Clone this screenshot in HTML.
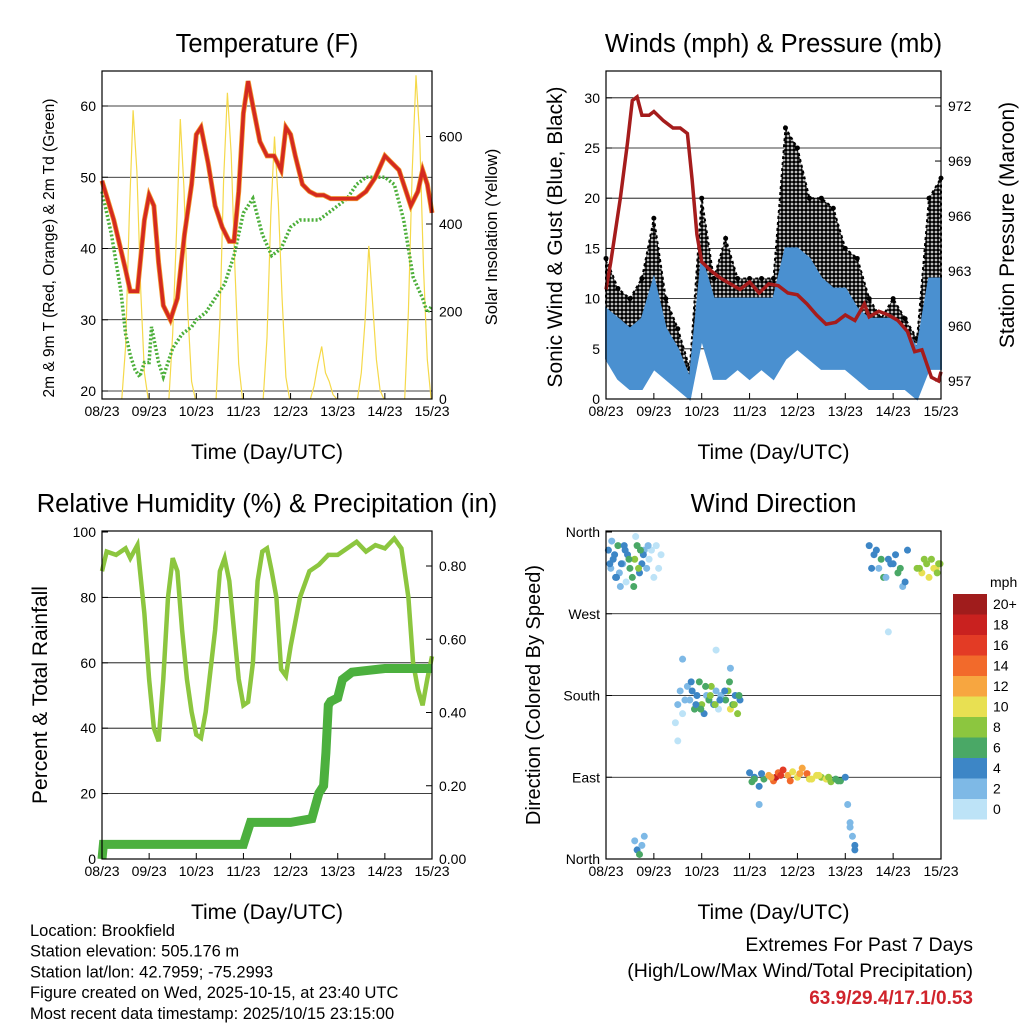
<!DOCTYPE html>
<html><head><meta charset="utf-8"><style>
body{margin:0;background:#fff;}
svg text{font-family:"Liberation Sans",Arial,sans-serif;fill:#000;}
</style></head><body>
<svg id="chart" width="1024" height="1024" viewBox="0 0 1024 1024" xmlns="http://www.w3.org/2000/svg">
<defs>
<pattern id="dots" width="4" height="4" patternUnits="userSpaceOnUse"><rect width="4" height="4" fill="#fff"/><circle cx="2" cy="2" r="1.9" fill="#000"/></pattern>
</defs>
<rect width="1024" height="1024" fill="#fff"/>
</svg>
<script>
// ---------- Data ----------
const dayLabels = ["08/23","09/23","10/23","11/23","12/23","13/23","14/23","15/23"];
const tempT = [0,0.25,0.5,0.6,0.75,0.9,1.0,1.1,1.2,1.3,1.45,1.6,1.75,1.9,2.0,2.1,2.25,2.4,2.55,2.7,2.8,2.9,3.0,3.1,3.2,3.35,3.5,3.65,3.8,3.9,4.0,4.1,4.25,4.4,4.55,4.7,4.85,5.0,5.2,5.4,5.6,5.8,6.0,6.15,6.3,6.45,6.55,6.7,6.8,6.9,7.0];
const tempV = [49.5,44,37,34,34,44,47.5,46,38,32,30,33,42,49,56,57,52,46,43,41,41,48,59,63.5,60,55,53,53,51,57,56,53,49,48,47.5,47.5,47,47,47,47,48,50,53,52,51,48,46,48,51,49,45];
const dewT = [0,0.2,0.4,0.5,0.6,0.7,0.8,0.9,1.0,1.05,1.2,1.3,1.4,1.5,1.7,1.9,2.0,2.2,2.4,2.6,2.8,3.0,3.2,3.4,3.6,3.8,4.0,4.2,4.4,4.6,4.8,5.0,5.2,5.4,5.6,5.8,6.0,6.2,6.4,6.6,6.8,6.9,7.0];
const dewV = [48,42,34,28,25,23,22,24,24,29,24,22,24,26,28,29,30,31,33,35,39,45,47,42,39,40,43,44,44,44,45,46,47,49,50,50,50,49,44,36,33,31,32];
const solarOffsets = [0.42,0.5,0.58,0.66,0.74,0.82,0.9,0.98];
const solarDay0 = [0,120,420,660,520,250,60,0];
const solarDay1 = [0,150,380,640,480,200,40,0];
const solarDay2 = [0,180,500,700,560,300,80,0];
const solarDay3 = [0,140,420,600,450,230,50,0];
const solarDay4 = [0,30,80,120,60,40,10,0];
const solarDay5 = [0,60,180,350,220,90,20,0];
const solarDay6 = [0,200,520,740,600,300,90,0];
const windT = [0,0.25,0.5,0.75,1.0,1.25,1.5,1.75,2.0,2.25,2.5,2.75,3.0,3.25,3.5,3.75,4.0,4.25,4.5,4.75,5.0,5.25,5.5,5.75,6.0,6.25,6.5,6.75,7.0];
const gustHi = [14,11,10,12,18,10,7,3,20,12,16,12,12,12,12,27,25,20,20,19,15,14,10,8,10,8,6,20,22];
const gustLo = [5,4,3,4,8,3,2,0,10,4,5,6,5,6,6,12,12,10,10,9,4,6,4,3,3,2,1,10,10];
const windHi = [9,8,7,8,12,7,5,2,14,10,10,10,10,10,10,15,15,14,12,11,11,9,8,8,8,7,5,12,12];
const windLo = [4,2,1,1,3,2,1,0,6,2,2,3,2,3,2,4,5,4,3,3,3,2,1,1,1,1,0,3,3];
const presT = [0,0.1,0.3,0.45,0.55,0.65,0.75,0.9,1.0,1.2,1.4,1.55,1.7,1.8,1.9,2.0,2.2,2.4,2.6,2.8,3.0,3.2,3.4,3.6,3.8,4.0,4.2,4.4,4.6,4.8,5.0,5.2,5.4,5.5,5.7,5.9,6.1,6.3,6.45,6.6,6.8,6.95,7.0];
const presV = [962,963.5,967,970,972.3,972.5,971.5,971.5,971.7,971.2,970.8,970.8,970.5,968,965,963.5,963,962.6,962.3,962,962.4,961.8,962.3,962.2,961.8,961.7,961.2,960.6,960.1,960.2,960.6,960.3,961.2,960.5,960.8,960.6,960.3,959.7,958.6,958.7,957.2,957,957.5];
const rhT = [0,0.1,0.3,0.5,0.6,0.75,0.9,1.0,1.1,1.2,1.3,1.4,1.5,1.6,1.7,1.8,1.9,2.0,2.1,2.2,2.4,2.5,2.6,2.7,2.8,2.9,3.0,3.1,3.2,3.3,3.4,3.5,3.6,3.7,3.8,3.9,4.0,4.2,4.4,4.6,4.8,5.0,5.2,5.4,5.6,5.8,6.0,6.2,6.35,6.5,6.6,6.7,6.8,6.9,7.0];
const rhV = [88,94,93,95,92,96,75,55,40,36,55,80,92,88,70,55,45,38,37,45,70,88,92,85,70,55,47,48,60,85,94,95,88,80,58,56,65,80,88,90,93,93,95,97,94,96,95,98,95,80,60,52,47,55,62];
const prT = [0,0.03,1.0,2.0,3.0,3.15,3.5,4.0,4.45,4.6,4.7,4.75,4.8,4.85,5.0,5.1,5.3,6.0,6.9,7.0];
const prV = [0,0.04,0.04,0.04,0.04,0.10,0.10,0.10,0.11,0.18,0.20,0.29,0.42,0.43,0.44,0.49,0.51,0.52,0.52,0.52];
const dirT = [0.05,0.1,0.15,0.2,0.25,0.3,0.35,0.4,0.45,0.5,0.55,0.6,0.65,0.7,0.75,0.8,0.85,0.9,0.95,1.0,1.05,1.1,1.15,0.6,0.65,0.7,0.75,0.8,1.45,1.5,1.6,1.7,1.75,1.8,1.85,1.9,1.95,2.0,2.05,2.1,2.15,2.2,2.25,2.3,2.35,2.4,2.5,2.55,2.6,2.65,2.7,2.75,2.8,3.0,3.05,3.1,3.2,3.3,3.4,3.5,3.55,3.6,3.7,3.8,3.9,4.0,4.1,4.2,4.3,4.4,4.5,4.6,4.7,4.8,4.9,5.0,5.05,5.1,5.15,5.2,5.5,5.6,5.7,5.8,5.9,6.0,6.1,6.2,6.3,6.5,6.6,6.7,6.8,6.9,6.95,1.5,1.6,2.3,2.6,3.2,5.9,
 0.08,0.18,0.28,0.38,0.48,0.58,0.68,0.78,0.88,0.12,0.22,0.32,0.42,0.62,0.72,1.55,1.65,1.78,1.88,1.98,2.08,2.18,2.28,2.38,2.48,2.58,2.68,2.78,3.1,3.25,3.45,3.65,3.85,4.05,4.25,4.45,4.65,4.85,5.55,5.65,5.75,5.85,5.95,6.05,6.15,6.25,6.55,6.65,6.75,6.85,6.92,6.98,5.1,5.2];
const dirV = [340,320,330,310,345,300,325,340,335,320,310,330,345,315,325,340,320,330,340,310,345,320,335,20,10,5,15,25,150,170,160,190,175,185,165,180,195,170,160,180,175,190,170,185,165,180,175,185,165,170,180,160,175,95,85,90,80,88,92,86,90,95,98,92,96,90,100,94,88,92,90,88,85,88,86,90,60,40,25,10,345,335,320,310,330,325,315,300,340,320,315,325,330,320,325,130,220,230,210,60,250,
 325,335,315,345,330,300,320,335,345,350,310,325,305,355,340,185,175,195,170,165,190,180,170,175,185,195,170,180,88,94,90,92,86,94,88,92,90,86,320,340,330,310,325,335,320,305,320,330,310,320,315,325,35,15];
const dirS = [4,3,5,4,6,2,3,4,5,6,7,8,6,5,4,3,2,1,1,1,0,1,1,3,4,7,2,3,1,2,1,3,2,5,6,4,7,8,5,3,6,9,4,2,1,3,7,9,10,6,4,8,5,5,6,4,5,7,12,15,18,14,16,12,10,11,13,14,10,11,9,10,8,6,7,4,2,3,2,4,4,5,3,6,4,5,6,3,4,8,10,9,8,10,9,1,2,1,2,3,1,
 4,5,3,4,6,7,8,5,2,3,5,4,1,1,6,2,3,4,5,6,7,8,9,5,4,7,9,6,6,5,13,17,15,12,11,10,9,7,4,5,6,3,5,4,6,5,8,9,10,11,8,9,3,4];
const cbarLabels = ["20+","18","16","14","12","10","8","6","4","2","0"];
const cbarColors = ["#a01c1c","#c9211f","#e33b25","#f26a2b","#f7a640","#e8e052","#8cc63f","#4aa866","#3d86c6","#7eb9e6","#bde3f7"];

// ---------- Helpers ----------
const svg = document.getElementById('chart');
const NS = "http://www.w3.org/2000/svg";
function add(parent, tag, name, attrs, txt){
  const el = document.createElementNS(NS, tag);
  
  
  for (const k in attrs) el.setAttribute(k, attrs[k]);
  if (txt !== undefined) el.textContent = txt;
  parent.appendChild(el);
  return el;
}
function poly(xs, ys, fx, fy){ return xs.map((x,i)=>fx(x).toFixed(1)+","+fy(ys[i]).toFixed(1)).join(" "); }

function panel(name, P, title, xlabel){
  const g = add(svg,'g',name,{});
  add(g,'text',name+'-title',{x:(P.x0+P.x1)/2,y:P.y0-19,'text-anchor':'middle','font-size':25.5},title);
  add(g,'text','x-axis-title',{x:(P.x0+P.x1)/2,y:P.y1+60,'text-anchor':'middle','font-size':21},xlabel);
  const fx = d => P.x0 + d*(P.x1-P.x0)/7;
  dayLabels.forEach((l,i)=>{
    add(g,'line','x-tick',{x1:fx(i),x2:fx(i),y1:P.y1,y2:P.y1-6,stroke:'#000'});
    add(g,'text','x-tick-label',{x:fx(i),y:P.y1+17,'text-anchor':'middle','font-size':14},l);
  });
  return {g,fx};
}
function frame(g,P){ add(g,'rect','plot-frame',{x:P.x0,y:P.y0,width:P.x1-P.x0,height:P.y1-P.y0,fill:'none',stroke:'#000','stroke-width':1.2}); }
function yTicks(g,P,vals,fy,side,fmt,grid){
  vals.forEach(v=>{
    const y=fy(v);
    if(grid && y>P.y0+2 && y<P.y1-2) add(g,'line','grid-line',{x1:P.x0,x2:P.x1,y1:y,y2:y,stroke:'#000','stroke-width':0.8});
    if(side==='l'){
      add(g,'line','y-tick',{x1:P.x0,x2:P.x0+6,y1:y,y2:y,stroke:'#000'});
      add(g,'text','y-tick-label',{x:P.x0-6,y:y+5,'text-anchor':'end','font-size':14},fmt(v));
    } else {
      add(g,'line','y2-tick',{x1:P.x1,x2:P.x1-6,y1:y,y2:y,stroke:'#000'});
      add(g,'text','y2-tick-label',{x:P.x1+7,y:y+5,'text-anchor':'start','font-size':14},fmt(v));
    }
  });
}
function vlabel(g,name,x,y,txt,size){ add(g,'text',name,{x:x,y:y,'text-anchor':'middle','font-size':size,transform:`rotate(-90 ${x} ${y})`},txt); }

// ---------- Panel 1 ----------
{
  const P={x0:102,x1:432,y0:71,y1:399};
  const {g,fx}=panel('temperature-panel',P,'Temperature (F)','Time (Day/UTC)');
  const fy=v=>391-(v-20)*7.125;
  const fs=v=>399-v*0.4375;
  yTicks(g,P,[20,30,40,50,60],fy,'l',v=>v,true);
  yTicks(g,P,[0,200,400,600],fs,'r',v=>v,false);
  const days=[solarDay0,solarDay1,solarDay2,solarDay3,solarDay4,solarDay5,solarDay6];
  days.forEach((arr,d)=>{
    add(g,'polyline','solar-line',{points:poly(solarOffsets.map(o=>d+o),arr,fx,fs),fill:'none',stroke:'#f5d94a','stroke-width':1.2});
  });
  add(g,'polyline','dewpoint-line',{points:poly(dewT,dewV,fx,fy),fill:'none',stroke:'#4caf3a','stroke-width':3.5,'stroke-dasharray':'2 2'});
  add(g,'polyline','temp-9m-line',{points:poly(tempT,tempV,fx,fy),fill:'none',stroke:'#f29a2e','stroke-width':5});
  add(g,'polyline','temp-2m-line',{points:poly(tempT,tempV,fx,fy),fill:'none',stroke:'#d42a20','stroke-width':3.5});
  frame(g,P);
  vlabel(g,'y-axis-title',54,248,'2m & 9m T (Red, Orange) & 2m Td (Green)',15.5);
  vlabel(g,'y2-axis-title',497,237,'Solar Insolation (Yellow)',16.5);
}
// ---------- Panel 2 ----------
{
  const P={x0:606,x1:941,y0:71,y1:399};
  const {g,fx}=panel('winds-panel',P,'Winds (mph) & Pressure (mb)','Time (Day/UTC)');
  const fy=v=>399-v*10.04;
  const fp=v=>381-(v-957)*18.33;
  yTicks(g,P,[0,5,10,15,20,25,30],fy,'l',v=>v,true);
  yTicks(g,P,[957,960,963,966,969,972],fp,'r',v=>v,false);
  const gustPts=poly(windT,gustHi,fx,fy)+" "+poly(windT.slice().reverse(),gustLo.slice().reverse(),fx,fy);
  add(g,'polygon','gust-band',{points:gustPts,fill:'url(#dots)','stroke':'#000','stroke-width':2,'stroke-dasharray':'3 3'});
  windT.forEach((t,i)=>{
    add(g,'circle','gust-point',{cx:fx(t),cy:fy(gustHi[i]),r:2.5,fill:'#000'});
  });
  const windPts=poly(windT,windHi,fx,fy)+" "+poly(windT.slice().reverse(),windLo.slice().reverse(),fx,fy);
  add(g,'polygon','wind-band',{points:windPts,fill:'#4a90d0',stroke:'#4a90d0','stroke-width':2});
  add(g,'polyline','pressure-line',{points:poly(presT,presV,fx,fp),fill:'none',stroke:'#a51c1c','stroke-width':3.5});
  frame(g,P);
  vlabel(g,'y-axis-title',562,237,'Sonic Wind & Gust (Blue, Black)',21);
  vlabel(g,'y2-axis-title',1014,225,'Station Pressure (Maroon)',21);
}
// ---------- Panel 3 ----------
{
  const P={x0:102,x1:432,y0:531,y1:859};
  const {g,fx}=panel('humidity-panel',P,'Relative Humidity (%) & Precipitation (in)','Time (Day/UTC)');
  const fy=v=>859-v*3.27;
  const fr=v=>859-v*366.25;
  yTicks(g,P,[0,20,40,60,80,100],fy,'l',v=>v,true);
  yTicks(g,P,[0,0.2,0.4,0.6,0.8],fr,'r',v=>v.toFixed(2),false);
  add(g,'polyline','rh-line',{points:poly(rhT,rhV,fx,fy),fill:'none',stroke:'#8cc63f','stroke-width':4.5});
  add(g,'polyline','precip-line',{points:poly(prT,prV,fx,fr),fill:'none',stroke:'#4cb03e','stroke-width':9});
  frame(g,P);
  vlabel(g,'y-axis-title',47,695,'Percent & Total Rainfall',21);
}
// ---------- Panel 4 ----------
{
  const P={x0:606,x1:941,y0:531,y1:859};
  const {g,fx}=panel('wind-direction-panel',P,'Wind Direction','Time (Day/UTC)');
  const fy=v=>859-v/360*327;
  const names=["North","East","South","West","North"];
  yTicks(g,P,[0,90,180,270,360],fy,'l',v=>names[v/90],true);
  dirT.forEach((t,i)=>{
    const idx=Math.min(10,Math.floor(dirS[i]/2));
    add(g,'circle','direction-point',{cx:fx(t),cy:fy(dirV[i]),r:3.5,fill:cbarColors[10-idx]});
  });
  frame(g,P);
  vlabel(g,'y-axis-title',540,695,'Direction (Colored By Speed)',20);
  const cb=add(svg,'g','speed-colorbar',{});
  add(cb,'text','colorbar-title',{x:990,y:587,'font-size':14},'mph');
  cbarLabels.forEach((l,i)=>{
    add(cb,'rect','colorbar-swatch',{x:953,y:594+i*20.5,width:34,height:20.5,fill:cbarColors[i]});
    add(cb,'text','colorbar-label',{x:993,y:609+i*20.5,'font-size':14},l);
  });
}
// ---------- Footer ----------
{
  const f=add(svg,'g','station-info',{});
  ["Location: Brookfield","Station elevation: 505.176 m","Station lat/lon: 42.7959; -75.2993","Figure created on Wed, 2025-10-15, at 23:40 UTC","Most recent data timestamp: 2025/10/15 23:15:00"].forEach((s,i)=>{
    add(f,'text','info-line',{x:30,y:936+i*20.7,'font-size':16.5},s);
  });
  const e=add(svg,'g','extremes-info',{});
  add(e,'text','extremes-title',{x:973,y:951,'text-anchor':'end','font-size':19.5},'Extremes For Past 7 Days');
  add(e,'text','extremes-subtitle',{x:973,y:977,'text-anchor':'end','font-size':19.5},'(High/Low/Max Wind/Total Precipitation)');
  add(e,'text','extremes-values',{x:973,y:1004,'text-anchor':'end','font-size':19,'font-weight':'bold',style:'fill:#d0242c'},'63.9/29.4/17.1/0.53');
}
</script>
</body></html>
